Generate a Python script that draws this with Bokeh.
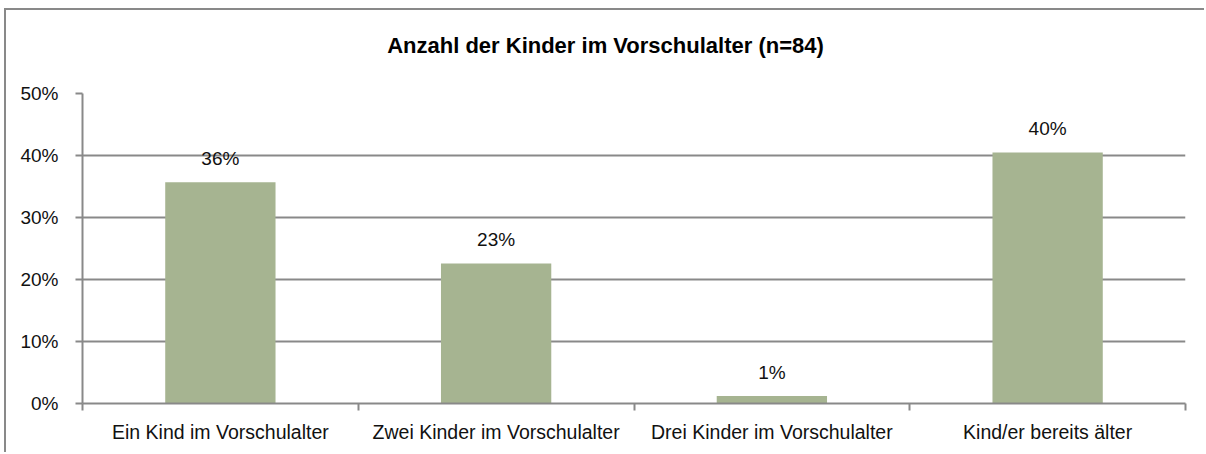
from bokeh.plotting import figure
from bokeh.models import ColumnDataSource, FixedTicker, Range1d, LabelSet, LinearAxis
from bokeh.core.properties import value
from bokeh.embed import file_html
from bokeh.resources import INLINE

categories = ["Ein Kind im Vorschulalter", "Zwei Kinder im Vorschulalter",
              "Drei Kinder im Vorschulalter", "Kind/er bereits älter"]
values = [35.7, 22.6, 1.2, 40.5]
value_labels = ["36%", "23%", "1%", "40%"]
y_ticks = [0, 10, 20, 30, 40, 50]
y_tick_labels = ["0%", "10%", "20%", "30%", "40%", "50%"]
title_text = "Anzahl der Kinder im Vorschulalter (n=84)"

FONT = "Liberation Sans"
GRAY = "#898989"
W, H = 1200, 444
BL, BT, BB, BR = 76, 83, 51, 21
n = len(categories)

xpos = [i + 0.5 for i in range(n)]
src = ColumnDataSource(dict(x=xpos, top=values, lab=value_labels))

p = figure(width=W, height=H, output_backend="svg", toolbar_location=None,
           x_range=Range1d(0, n), y_range=Range1d(0, 50),
           min_border_left=BL, min_border_top=BT, min_border_bottom=BB, min_border_right=BR)
p.styles = {"margin-left": "4px", "margin-top": "8px",
            "border-left": f"2px solid {GRAY}", "border-top": f"2px solid {GRAY}"}
p.outline_line_color = None

p.vbar(x="x", top="top", width=0.4, bottom=0, source=src, color="#A6B491", line_color=None)

labels = LabelSet(x="x", y="top", text="lab", source=src, y_offset=24, text_align="center",
                  text_baseline="middle", text_font=value(FONT), text_font_size=value("19px"),
                  text_color="#111111")
p.add_layout(labels)

# bottom category axis
xa = p.below[0]
xa.ticker = FixedTicker(ticks=xpos, minor_ticks=list(range(n + 1)))
xa.major_label_overrides = {x: c for x, c in zip(xpos, categories)}
xa.major_tick_out = 0
xa.major_tick_in = 0
xa.minor_tick_out = 7
xa.minor_tick_in = 0
xa.minor_tick_line_color = GRAY
xa.minor_tick_line_width = 2
xa.axis_line_color = GRAY
xa.axis_line_width = 2
xa.major_label_standoff = 10
xa.major_label_text_font = FONT
xa.major_label_text_font_size = "19.5px"
xa.major_label_text_color = "#111111"

# y axis
ya = p.left[0]
ya.ticker = FixedTicker(ticks=y_ticks)
ya.major_label_overrides = {v: s for v, s in zip(y_ticks, y_tick_labels)}
ya.major_tick_out = 7
ya.major_tick_in = 0
ya.minor_tick_out = 0
ya.minor_tick_in = 0
ya.major_tick_line_color = GRAY
ya.major_tick_line_width = 2
ya.axis_line_color = GRAY
ya.axis_line_width = 2
ya.major_label_standoff = 17
ya.major_label_text_font = FONT
ya.major_label_text_font_size = "19px"
ya.major_label_text_color = "#111111"

# chart title, drawn as the single label of an invisible axis above the frame
frame_w = W - BL - BR
title_pos = (599 - BL) / frame_w * n
tax = LinearAxis(ticker=FixedTicker(ticks=[title_pos], minor_ticks=[]),
                 major_label_overrides={title_pos: title_text},
                 axis_line_color=None, major_tick_line_color=None, minor_tick_line_color=None,
                 major_tick_out=0, major_tick_in=0, minor_tick_out=0, minor_tick_in=0,
                 major_label_standoff=36, major_label_text_font=FONT,
                 major_label_text_font_size="22px", major_label_text_font_style="bold",
                 major_label_text_color="#000000")
p.add_layout(tax, "above")

p.xgrid.grid_line_color = None
p.ygrid.ticker = FixedTicker(ticks=y_ticks)
p.ygrid.grid_line_color = GRAY
p.ygrid.grid_line_width = 2

open("out.html", "w").write(file_html(p, INLINE))
